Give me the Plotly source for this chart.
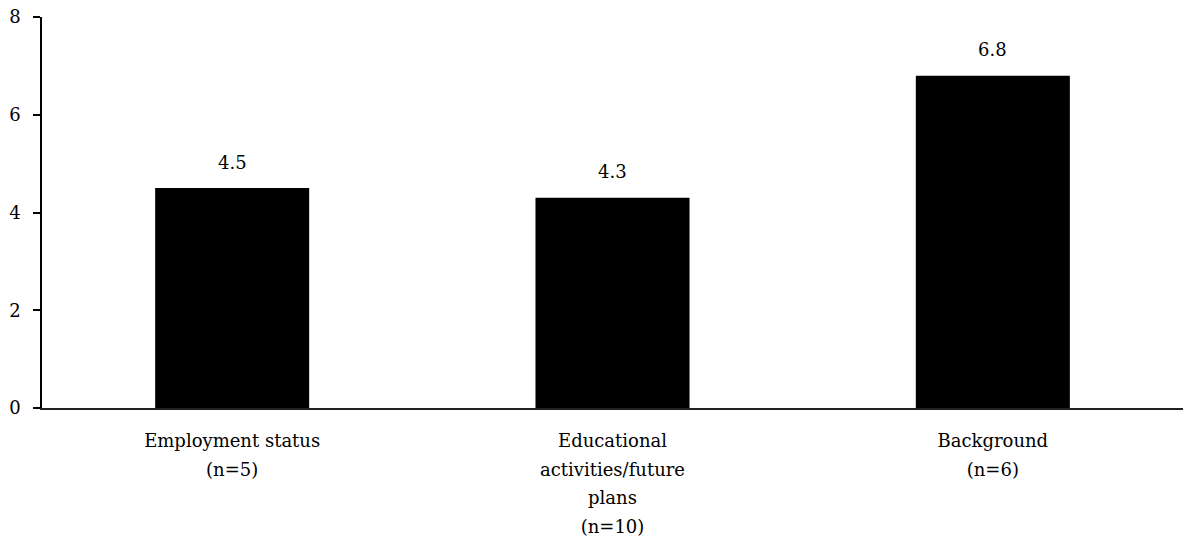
import plotly.graph_objects as go

categories = ["Employment status<br>(n=5)",
              "Educational<br>activities/future<br>plans<br>(n=10)",
              "Background<br>(n=6)"]
values = [4.5, 4.3, 6.8]
value_labels = ["4.5", "4.3", "6.8"]
y_ticks = [0, 2, 4, 6, 8]

FONT = "DejaVu Serif"
TXT = 18

tick_text = ["<br>".join(f"<span style='font-size:{TXT}px'>{line}</span>" for line in c.split("<br>"))
             for c in categories]

fig = go.Figure(go.Bar(x=categories, y=values, marker=dict(color="black", line=dict(width=0))))

for c, v, t in zip(categories, values, value_labels):
    fig.add_annotation(x=c, y=v, text=t, showarrow=False, yanchor="middle", yshift=26,
                       font=dict(family=FONT, size=TXT, color="black"))

fig.update_layout(
    width=1185, height=541,
    margin=dict(l=42, r=2, t=17, b=133, autoexpand=False),
    paper_bgcolor="white", plot_bgcolor="white",
    bargap=0.595, showlegend=False,
    font=dict(family=FONT, color="black"),
)
fig.update_xaxes(showline=True, linecolor="#222", linewidth=1.5, ticks="",
                 tickvals=categories, ticktext=tick_text,
                 tickfont=dict(family=FONT, size=22, color="black"),
                 ticklabelstandoff=11, showgrid=False, automargin=False)
fig.update_yaxes(range=[0, 8], tickvals=y_ticks, showline=True, linecolor="black", linewidth=1.5,
                 ticks="outside", ticklen=7, tickwidth=1.5, tickcolor="black",
                 tickfont=dict(family=FONT, size=TXT, color="black"),
                 ticklabelstandoff=9, showgrid=False, zeroline=False, automargin=False)

fig.write_html("out.html", config={"displayModeBar": False},
               post_script="document.body.style.margin='0';")
